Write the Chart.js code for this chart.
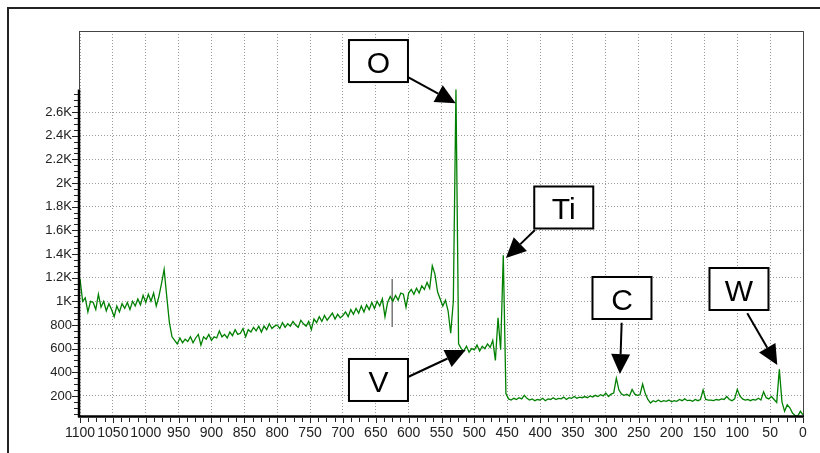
<!DOCTYPE html>
<html>
<head>
<meta charset="utf-8">
<script src="https://cdn.jsdelivr.net/npm/chart.js@4.4.1/dist/chart.umd.min.js"></script>
<style>
  html, body { margin: 0; padding: 0; background: #fff; }
</style>
</head>
<body>
<canvas id="xps" width="820" height="453"></canvas>
<script>
// survey spectrum, binding energy (eV) from 1100 down to 0, one reading every 4 eV
const energyStart = 1100;
const energyStep = 4;
const counts = [
  1190, 1000, 1030, 910, 1000, 990, 930, 1060, 950, 1000, 920, 980, 930, 870, 960, 910,
  980, 940, 990, 930, 1000, 960, 1020, 970, 1050, 990, 1060, 1000, 1070, 960, 1040,
  1150, 1270, 1040, 820, 700, 670, 640, 690, 650, 680, 660, 700, 650, 690, 720, 630, 700, 680, 720, 670,
  700, 690, 750, 700, 720, 690, 740, 710, 760, 720, 730, 770, 700, 760, 740, 780, 750, 790, 740, 790,
  760, 810, 770, 790, 800,
  770, 820, 780, 810, 790, 830, 800, 780, 840, 810, 790, 830, 760, 850, 820, 870, 830, 880, 840, 870,
  900, 850, 890, 860, 880,
  910, 870, 930, 890, 940, 900, 960, 910, 970, 930, 990, 940, 1000, 960, 1020, 870, 990, 1040, 1000, 1050,
  1010, 1070, 1060, 950, 1070,
  1100, 1060, 1110, 1070, 1130, 1100, 1160, 1110, 1300, 1230, 1080, 1020, 960, 1010, 920, 730,
  1000, 2790, 640, 600, 580, 620, 570, 600, 590, 630, 580, 620, 600, 640, 610, 670, 500, 860, 590, 1390, 220,
  175, 165, 180, 170, 185, 175, 205, 180, 165, 175,
  160, 170, 165, 180, 160, 175, 170, 185, 170, 180,
  175, 190, 170, 185, 180, 195, 180, 190, 185, 195,
  185, 200, 190, 205, 195, 210, 200, 225, 195, 215,
  225, 350, 250, 215, 205, 215, 200, 255, 215, 205,
  210, 300, 220, 170, 140, 160, 150, 165, 150, 160,
  155, 165, 150, 160, 155, 170, 160, 175, 160, 165,
  155, 170, 160, 170, 250, 170, 165, 165, 160, 170,
  165, 175, 170, 195, 170, 160, 175, 255, 200, 175,
  165, 170, 160, 170, 165, 180, 165, 235, 185, 175,
  195, 170, 145, 425, 150, 70, 125, 100, 55, 35,
  30, 70, 40
];
// short grey marker drawn across the background near 625 eV
const markerEnergy = [625, 625];
const markerCounts = [783, 1188];

const xTicks = [1100, 1050, 1000, 950, 900, 850, 800, 750, 700, 650, 600, 550,
                500, 450, 400, 350, 300, 250, 200, 150, 100, 50, 0];
const yTicks = [200, 400, 600, 800, 1000, 1200, 1400, 1600, 1800, 2000, 2200, 2400, 2600];

const peakNames = ['O', 'Ti', 'V', 'C', 'W'];

// label boxes and arrows, placed in data units (eV, counts)
const callouts = {
  boxE:      [645.9, 364, 645.9, 275.4, 97.4],
  boxCounts: [3031, 1793, 335, 1028, 1104],
  tailE:     [601, 407.8, 601, 275.9, 84.8],
  tailCounts:[2896, 1603, 360, 819, 899],
  tipE:      [528.4, 451.9, 513.2, 278.5, 39.1],
  tipCounts: [2674, 1366, 588, 385, 462]
};

const FONT = '"Liberation Sans", Arial, sans-serif';

const spectrum = counts.map((c, i) => ({ x: energyStart - i * energyStep, y: c }));
const marker = markerEnergy.map((e, i) => ({ x: e, y: markerCounts[i] }));

function arrow(ctx, x0, y0, x1, y1) {
  const a = Math.atan2(y1 - y0, x1 - x0);
  const len = 20, half = 9.5;
  const bx = x1 - len * Math.cos(a), by = y1 - len * Math.sin(a);
  ctx.beginPath();
  ctx.moveTo(x0, y0);
  ctx.lineTo(bx, by);
  ctx.stroke();
  ctx.beginPath();
  ctx.moveTo(x1, y1);
  ctx.lineTo(bx + half * Math.sin(a), by - half * Math.cos(a));
  ctx.lineTo(bx - half * Math.sin(a), by + half * Math.cos(a));
  ctx.closePath();
  ctx.fill();
}

const decorations = {
  id: 'decorations',
  beforeDraw(chart) {
    const ctx = chart.ctx;
    ctx.save();
    ctx.fillStyle = '#fff';
    ctx.fillRect(0, 0, chart.width, chart.height);
    ctx.restore();
  },
  afterDatasetsDraw(chart) {
    const ctx = chart.ctx;
    const a = chart.chartArea;
    const xs = chart.scales.x, ys = chart.scales.y;
    ctx.save();

    // thin plot frame
    ctx.strokeStyle = '#444';
    ctx.lineWidth = 1;
    ctx.beginPath();
    ctx.moveTo(a.left, a.top + 0.5);
    ctx.lineTo(a.right + 0.5, a.top + 0.5);
    ctx.lineTo(a.right + 0.5, a.bottom);
    ctx.stroke();

    // y axis: heavy over the data range, thin above
    const yTop = ys.getPixelForValue(2790);
    ctx.beginPath();
    ctx.moveTo(a.left - 0.5, a.top);
    ctx.lineTo(a.left - 0.5, yTop);
    ctx.stroke();
    ctx.strokeStyle = '#000';
    ctx.lineWidth = 2.5;
    ctx.beginPath();
    ctx.moveTo(a.left - 1, yTop);
    ctx.lineTo(a.left - 1, a.bottom);
    ctx.stroke();

    // y ticks, minor every 50
    ctx.lineWidth = 1;
    ctx.strokeStyle = '#222';
    for (let v = 50; v <= 2750; v += 50) {
      const y = Math.round(ys.getPixelForValue(v)) + 0.5;
      const major = v % 200 === 0;
      ctx.beginPath();
      ctx.moveTo(a.left - (major ? 8 : 6), y);
      ctx.lineTo(a.left - 2, y);
      ctx.stroke();
    }

    // x axis
    ctx.strokeStyle = '#000';
    ctx.lineWidth = 2.5;
    ctx.beginPath();
    ctx.moveTo(a.left - 2, a.bottom - 0.5);
    ctx.lineTo(a.right + 1, a.bottom - 0.5);
    ctx.stroke();

    // x ticks, minor every 12.5
    ctx.lineWidth = 1;
    ctx.strokeStyle = '#222';
    for (let e = 0; e <= 1100; e += 12.5) {
      const x = Math.round(xs.getPixelForValue(e)) + 0.5;
      const major = e % 50 === 0;
      ctx.beginPath();
      ctx.moveTo(x, a.bottom + 1);
      ctx.lineTo(x, a.bottom + (major ? 6 : 5));
      ctx.stroke();
    }

    // outer frame
    ctx.strokeStyle = '#222';
    ctx.lineWidth = 2;
    ctx.beginPath();
    ctx.moveTo(8, chart.height);
    ctx.lineTo(8, 8);
    ctx.lineTo(chart.width, 8);
    ctx.stroke();
    ctx.restore();
  },
  afterDraw(chart) {
    const ctx = chart.ctx;
    const xs = chart.scales.x, ys = chart.scales.y;
    ctx.save();
    ctx.strokeStyle = '#000';
    ctx.fillStyle = '#000';
    ctx.lineWidth = 2;
    peakNames.forEach((name, i) => {
      arrow(ctx,
        xs.getPixelForValue(callouts.tailE[i]), ys.getPixelForValue(callouts.tailCounts[i]),
        xs.getPixelForValue(callouts.tipE[i]), ys.getPixelForValue(callouts.tipCounts[i]));
    });
    peakNames.forEach((name, i) => {
      const cx = xs.getPixelForValue(callouts.boxE[i]);
      const cy = ys.getPixelForValue(callouts.boxCounts[i]);
      const w = 59, h = 42;
      ctx.fillStyle = '#fff';
      ctx.fillRect(cx - w / 2, cy - h / 2, w, h);
      ctx.strokeRect(cx - w / 2, cy - h / 2, w, h);
      ctx.fillStyle = '#000';
      ctx.font = '30px ' + FONT;
      ctx.textAlign = 'center';
      ctx.textBaseline = 'alphabetic';
      ctx.fillText(name, cx, cy + 12);
    });
    ctx.restore();
  }
};

new Chart(document.getElementById('xps'), {
  type: 'line',
  data: {
    datasets: [
      {
        data: spectrum,
        borderColor: '#008000',
        borderWidth: 1.3,
        pointRadius: 0,
        tension: 0,
        fill: false
      },
      {
        data: marker,
        borderColor: '#777',
        borderWidth: 1.5,
        pointRadius: 0,
        fill: false
      }
    ]
  },
  options: {
    responsive: false,
    animation: false,
    events: [],
    layout: { padding: { left: 0, right: 17, top: 31, bottom: 0 } },
    plugins: { legend: { display: false }, tooltip: { enabled: false } },
    scales: {
      x: {
        type: 'linear',
        reverse: true,
        min: 0,
        max: 1100,
        afterBuildTicks: s => { s.ticks = xTicks.map(v => ({ value: v })); },
        afterFit: s => { s.height = 36; },
        ticks: {
          autoSkip: false,
          maxRotation: 0,
          minRotation: 0,
          padding: 8,
          color: '#222',
          font: { family: FONT, size: 14 },
          callback: v => String(v)
        },
        grid: { color: '#9a9a9a', lineWidth: 1, drawTicks: false },
        border: { display: false, dash: [1, 2] }
      },
      y: {
        type: 'linear',
        min: 22,
        max: 3285,
        afterBuildTicks: s => { s.ticks = yTicks.map(v => ({ value: v })); },
        afterFit: s => { s.width = 80; },
        ticks: {
          padding: 8,
          color: '#222',
          font: { family: FONT, size: 13 },
          callback: v => v >= 1000 ? (v / 1000) + 'K' : String(v)
        },
        grid: { color: '#9a9a9a', lineWidth: 1, drawTicks: false },
        border: { display: false, dash: [1, 2] }
      }
    }
  },
  plugins: [decorations]
});
</script>
</body>
</html>
